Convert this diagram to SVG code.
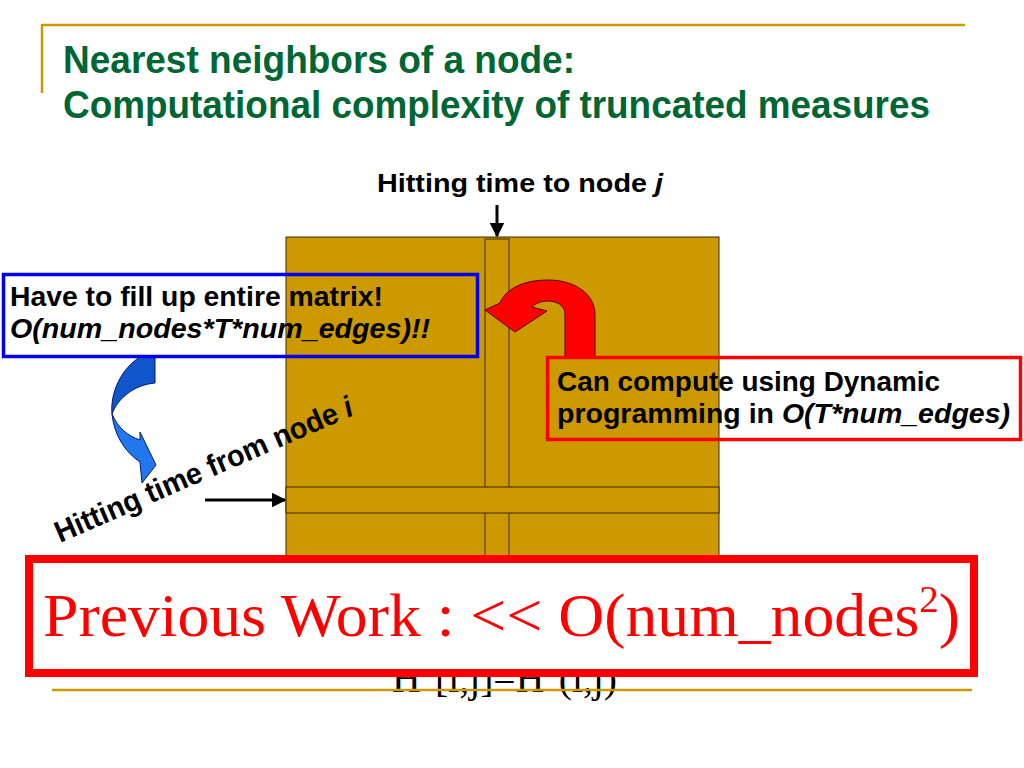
<svg xmlns="http://www.w3.org/2000/svg" width="1024" height="768" viewBox="0 0 1024 768">
<defs>
<style>
.gold{stroke:#CC9900;stroke-width:2.5;fill:none}
.cell{fill:#CC9900;stroke:#3a2a00;stroke-width:1}
.sans{font-family:"Liberation Sans",Arial,sans-serif;font-weight:bold;fill:#000}
.title{font-family:"Liberation Sans",Arial,sans-serif;font-weight:bold;fill:#006633;font-size:38px}
.serif{font-family:"Liberation Serif","Times New Roman",serif}
.conn{stroke:#000;stroke-width:3;fill:none}
</style>
<marker id="ah" viewBox="0 0 10 10" refX="9" refY="5" markerWidth="5" markerHeight="5" orient="auto" markerUnits="strokeWidth">
<path d="M0,0 L10,5 L0,10 Z" fill="#000"/>
</marker>
</defs>
<rect width="1024" height="768" fill="#fff"/>
<g id="frame">
<line class="gold" x1="42" y1="25" x2="965" y2="25"/>
<line class="gold" x1="42" y1="24" x2="42" y2="93"/>
</g>
<g id="title">
<text class="title" x="63" y="73" textLength="512" lengthAdjust="spacingAndGlyphs">Nearest neighbors of a node:</text>
<text class="title" x="63" y="118" textLength="867" lengthAdjust="spacingAndGlyphs">Computational complexity of truncated measures</text>
</g>
<g id="matrix">
<rect class="cell" x="286" y="237" width="433" height="400"/>
<rect class="cell" x="485" y="239" width="24" height="398"/>
<rect class="cell" x="286" y="487" width="433" height="26"/>
</g>
<g id="label-j">
<text class="sans" x="377" y="192" font-size="25" textLength="286" lengthAdjust="spacingAndGlyphs">Hitting time to node <tspan font-style="italic">j</tspan></text>
</g>
<g id="label-i">
<text class="sans" font-size="30" transform="translate(60,543) rotate(-23.5)" textLength="322" lengthAdjust="spacingAndGlyphs">Hitting time from node <tspan font-style="italic">i</tspan></text>
</g>
<g id="connectors">
<line class="conn" x1="497" y1="205" x2="497" y2="236" marker-end="url(#ah)"/>
<line class="conn" x1="205" y1="500" x2="285" y2="500" marker-end="url(#ah)"/>
</g>
<g id="blue-arrow">
<path d="M140,357 C122,368 110,392 112,414 C118,398 134,385 155,383 L155,357 Z" fill="#1155CC" stroke="#001a66" stroke-width="1"/>
<path d="M112,414 C118,428 128,436 140,440 L140,432 L156,465 L142,483 L140,462 C125,452 114,435 112,414 Z" fill="#2277EE" stroke="#001a66" stroke-width="1"/>
</g>
<g id="red-arrow">
<path d="M565,357 L565,314 C565,305 556,301 548,301 C540,301 535,304 532,307 L547,311 L515,332 L485,310 L500,303 C506,288 525,280 548,280 C575,280 595,294 595,315 L595,357 Z" fill="#FF0000" stroke="#550000" stroke-width="1"/>
</g>
<g id="box-fill">
<rect x="3.5" y="274.5" width="474" height="82" fill="none" stroke="#0000EE" stroke-width="3.5"/>
<text class="sans" x="10" y="306" font-size="27" textLength="373" lengthAdjust="spacingAndGlyphs">Have to fill up entire matrix!</text>
<text class="sans" x="10" y="338" font-size="27" font-style="italic" textLength="420" lengthAdjust="spacingAndGlyphs">O(num_nodes*T*num_edges)!!</text>
</g>
<g id="box-dp">
<rect x="547.5" y="357.5" width="473" height="82" fill="none" stroke="#FF0000" stroke-width="3.5"/>
<text class="sans" x="557" y="391" font-size="27" textLength="383" lengthAdjust="spacingAndGlyphs">Can compute using Dynamic</text>
<text class="sans" x="557" y="423" font-size="27" textLength="453" lengthAdjust="spacingAndGlyphs">programming in <tspan font-style="italic">O(T*num_edges)</tspan></text>
</g>
<g id="formula">
<text class="serif" x="392" y="692" font-size="40" fill="#000" textLength="225" lengthAdjust="spacingAndGlyphs">H<tspan font-size="24" dy="-15">T</tspan><tspan dy="15">[i,j]=H</tspan><tspan font-size="24" dy="-15">T</tspan><tspan dy="15">(i,j)</tspan></text>
</g>
<g id="previous-work">
<rect x="29" y="559" width="945" height="114" fill="#fff" stroke="#FF0000" stroke-width="8"/>
<text class="serif" x="43" y="636" font-size="62" fill="#FF0000" textLength="917" lengthAdjust="spacingAndGlyphs">Previous Work : &lt;&lt; O(num_nodes<tspan font-size="38" dy="-24">2</tspan><tspan dy="24">)</tspan></text>
</g>
<g id="footer">
<line class="gold" x1="52" y1="690" x2="972" y2="690"/>
</g>
</svg>
